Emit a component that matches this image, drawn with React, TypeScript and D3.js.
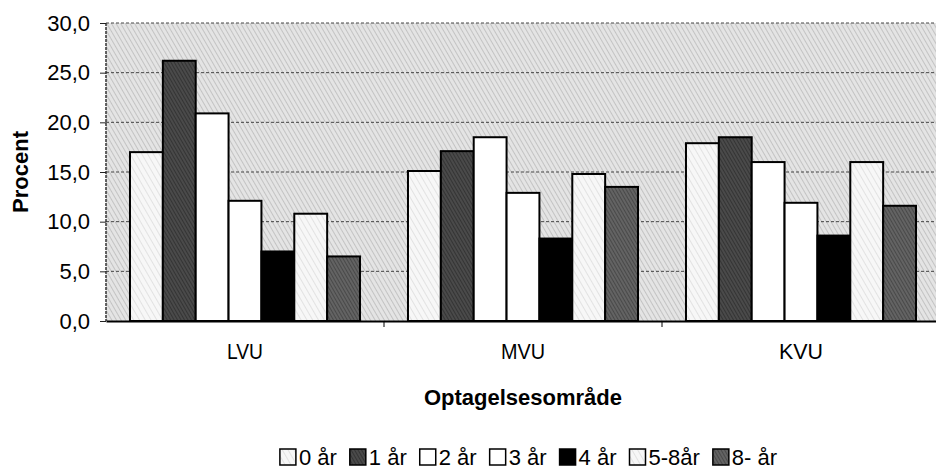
import { useEffect, useRef } from "react"
import * as d3 from "d3"

const categories = ["LVU", "MVU", "KVU"]
const seriesNames = ["0 år", "1 år", "2 år", "3 år", "4 år", "5-8år", "8- år"]
// values per series, in category order LVU, MVU, KVU
const v0 = [17.0, 15.1, 17.9]
const v1 = [26.2, 17.1, 18.5]
const v2 = [20.9, 18.5, 16.0]
const v3 = [12.1, 12.9, 11.9]
const v4 = [7.0, 8.3, 8.6]
const v5 = [10.8, 14.8, 16.0]
const v6 = [6.5, 13.5, 11.6]
const seriesValues = [v0, v1, v2, v3, v4, v5, v6]
const yTicks = [0, 5, 10, 15, 20, 25, 30]

const fills = [
  "url(#light)",
  "url(#dark1)",
  "#ffffff",
  "#ffffff",
  "#000000",
  "url(#light)",
  "url(#dark2)",
]

export default function App() {
  const svgRef = useRef<SVGSVGElement>(null)

  useEffect(() => {
    if (!svgRef.current) return
    const svg = d3.select(svgRef.current)
    svg.selectAll("*").remove()

    const W = 936
    const H = 469
    const margin = { top: 23, right: -4, bottom: 148, left: 106 }
    const width = W - margin.left - margin.right
    const height = H - margin.top - margin.bottom
    const font = "'Liberation Sans', Arial, sans-serif"

    // patterns
    const defs = svg.append("defs")
    const hatch = (id: string, base: string, line: string, step: number, lw: number) => {
      const p = defs
        .append("pattern")
        .attr("id", id)
        .attr("patternUnits", "userSpaceOnUse")
        .attr("width", step)
        .attr("height", step)
        .attr("patternTransform", "rotate(-30)")
      p.append("rect").attr("width", step).attr("height", step).attr("fill", base)
      p.append("line")
        .attr("x1", 0)
        .attr("y1", 0)
        .attr("x2", 0)
        .attr("y2", step)
        .attr("stroke", line)
        .attr("stroke-width", lw)
    }
    hatch("bg", "#e4e4e4", "#adadad", 4, 1.2)
    hatch("light", "#f7f7f7", "#cdcdcd", 5, 1)
    hatch("dark1", "#4a4a4a", "#1e1e1e", 3, 1)
    hatch("dark2", "#636363", "#2e2e2e", 3, 1)

    const x0 = d3.scaleBand().domain(categories).range([0, width]).padding(0)
    const x1 = d3
      .scaleBand()
      .domain(seriesNames)
      .range([0, x0.bandwidth()])
      .paddingInner(0)
      .paddingOuter(0.73)
    const y = d3.scaleLinear().domain([0, 30]).range([height, 0])

    const g = svg.append("g").attr("transform", `translate(${margin.left},${margin.top})`)

    // plot background
    g.append("rect")
      .attr("width", width)
      .attr("height", height)
      .attr("fill", "url(#bg)")

    // grid lines
    g.selectAll(".grid")
      .data(yTicks.filter((t) => t > 0))
      .enter()
      .append("line")
      .attr("x1", 0)
      .attr("x2", width)
      .attr("y1", (d) => y(d))
      .attr("y2", (d) => y(d))
      .attr("stroke", "#444")
      .attr("stroke-width", 1)
      .attr("stroke-dasharray", "3,2")

    // left axis line (dashed)
    g.append("line")
      .attr("x1", 0)
      .attr("x2", 0)
      .attr("y1", 0)
      .attr("y2", height)
      .attr("stroke", "#333")
      .attr("stroke-width", 1.5)
      .attr("stroke-dasharray", "3,1")

    // y axis ticks and labels
    const yAxis = g
      .append("g")
      .call(
        d3
          .axisLeft(y)
          .tickValues(yTicks)
          .tickSize(6)
          .tickPadding(10)
          .tickFormat((d) => d3.format(".1f")(d as number).replace(".", ","))
      )
    yAxis.select(".domain").remove()
    yAxis.selectAll("line").attr("stroke", "#222")
    yAxis
      .selectAll("text")
      .attr("fill", "#000")
      .attr("font-family", font)
      .attr("font-size", "22px")

    // bars
    const groups = g
      .selectAll(".cat")
      .data(categories)
      .enter()
      .append("g")
      .attr("transform", (d) => `translate(${x0(d)},0)`)

    groups
      .selectAll("rect")
      .data((_, ci) => seriesNames.map((s, si) => ({ s, si, v: seriesValues[si][ci] })))
      .enter()
      .append("rect")
      .attr("x", (d) => x1(d.s) || 0)
      .attr("y", (d) => y(d.v))
      .attr("width", x1.bandwidth())
      .attr("height", (d) => height - y(d.v))
      .attr("fill", (d) => fills[d.si])
      .attr("stroke", "#000")
      .attr("stroke-width", 2)

    // bottom axis
    const xAxis = g
      .append("g")
      .attr("transform", `translate(0,${height})`)
      .call(d3.axisBottom(x0).tickSize(0).tickPadding(22))
    xAxis.select(".domain").attr("stroke", "#000").attr("stroke-width", 2)
    xAxis
      .selectAll("text")
      .attr("fill", "#000")
      .attr("font-family", font)
      .attr("font-size", "22px")
      .attr("textLength", (d) => (d === "LVU" ? 36 : 44))
      .attr("lengthAdjust", "spacingAndGlyphs")

    // category separator ticks
    g.selectAll(".sep")
      .data(categories.slice(1))
      .enter()
      .append("line")
      .attr("x1", (d) => x0(d) || 0)
      .attr("x2", (d) => x0(d) || 0)
      .attr("y1", height)
      .attr("y2", height + 6)
      .attr("stroke", "#000")
      .attr("stroke-width", 1)

    // axis titles
    svg
      .append("text")
      .attr("transform", `translate(28,${margin.top + height / 2}) rotate(-90)`)
      .attr("text-anchor", "middle")
      .attr("font-family", font)
      .attr("font-size", "22px")
      .attr("font-weight", "bold")
      .text("Procent")

    svg
      .append("text")
      .attr("x", margin.left + x0.bandwidth() * 1.5)
      .attr("y", 405)
      .attr("text-anchor", "middle")
      .attr("font-family", font)
      .attr("font-size", "22px")
      .attr("font-weight", "bold")
      .text("Optagelsesområde")

    // legend
    const legend = svg.append("g")
    let offset = 0
    seriesNames.forEach((name, i) => {
      const item = legend.append("g").attr("transform", `translate(${offset},0)`)
      item
        .append("rect")
        .attr("x", 1)
        .attr("y", -16)
        .attr("width", 16)
        .attr("height", 16)
        .attr("fill", fills[i])
        .attr("stroke", "#000")
        .attr("stroke-width", 1.5)
      const t = item
        .append("text")
        .attr("x", 20)
        .attr("y", 0)
        .attr("font-family", font)
        .attr("font-size", "22px")
        .attr("fill", "#000")
        .text(name)
      const tw = (t.node() as SVGTextElement).getComputedTextLength()
      offset += 20 + tw + 12
    })
    const total = offset - 12
    legend.attr("transform", `translate(${528 - total / 2},465)`)
  }, [])

  return (
    <svg
      ref={svgRef}
      width={936}
      height={469}
      style={{ position: "absolute", left: 0, top: 0, background: "#fff" }}
    />
  )
}
